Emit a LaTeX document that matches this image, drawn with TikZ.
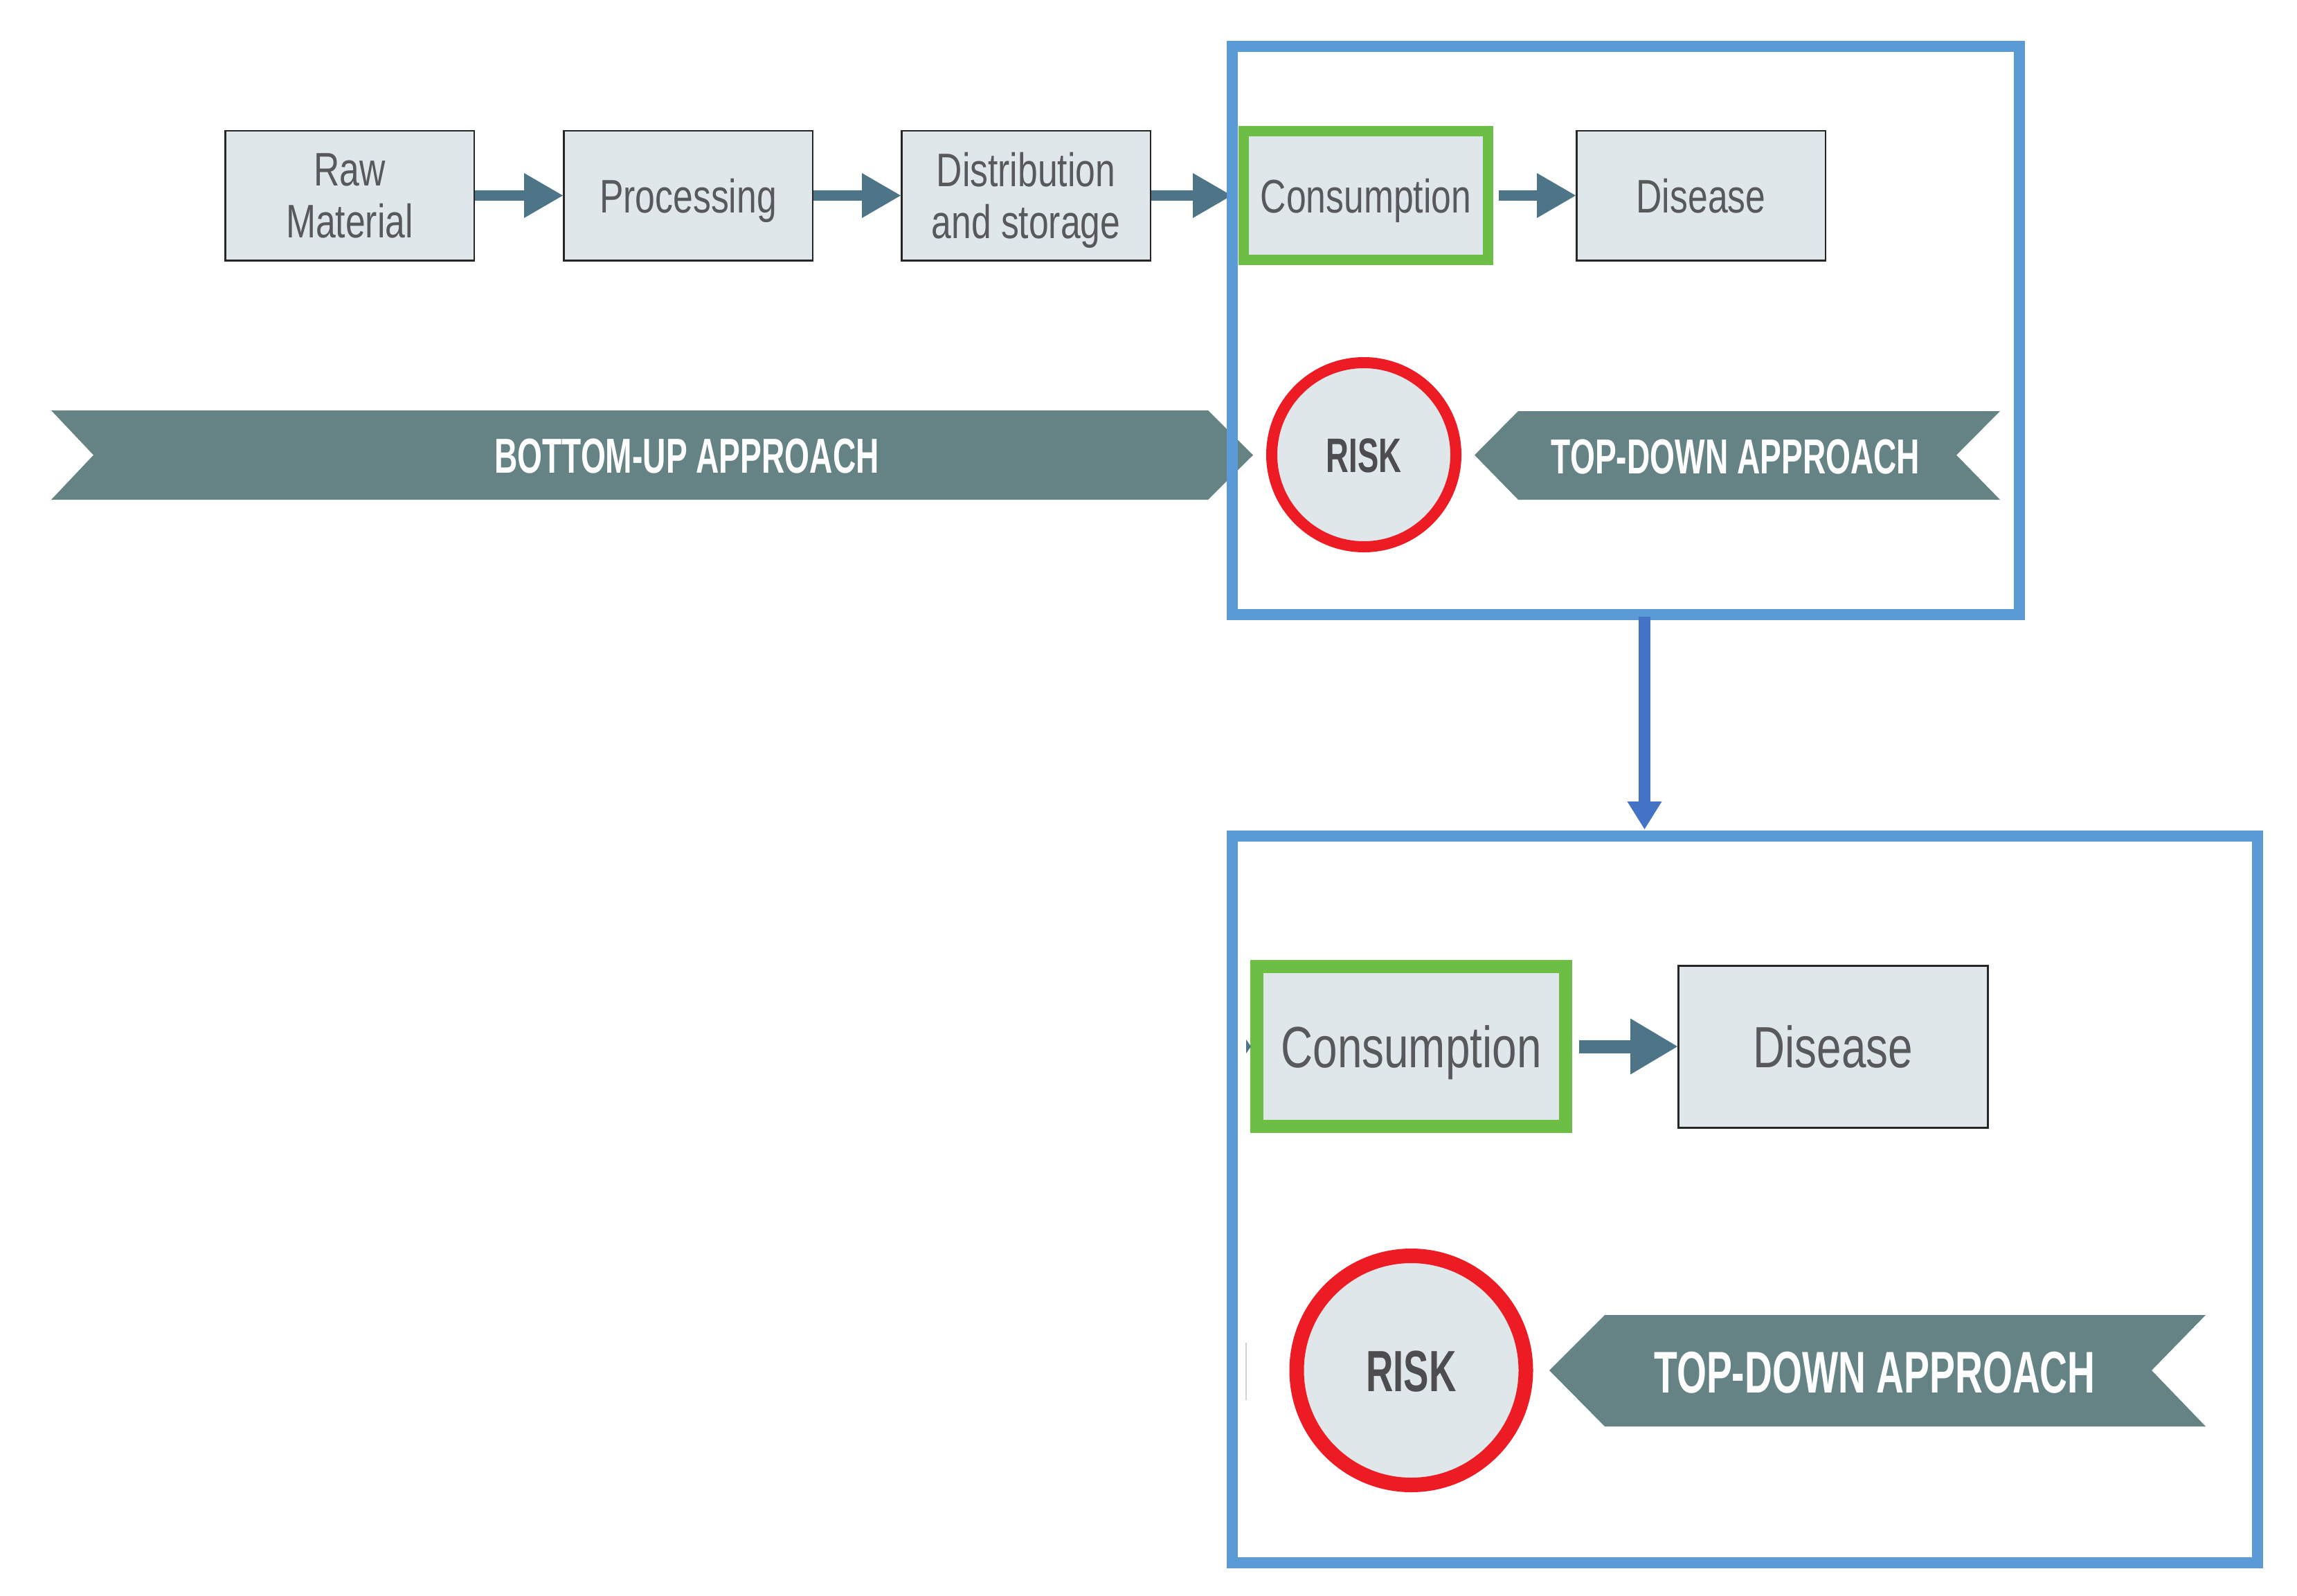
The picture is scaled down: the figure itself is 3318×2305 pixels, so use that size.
\documentclass[tikz,border=0pt]{standalone}
\usepackage{fontspec}
\setmainfont{Liberation Sans}
\newfontfamily\condreg[FakeStretch=0.76]{Liberation Sans}
\newfontfamily\condbold[FakeStretch=0.65]{Liberation Sans Bold}
\usetikzlibrary{arrows.meta}
\definecolor{boxfill}{HTML}{E0E7EA}
\definecolor{boxline}{HTML}{262626}
\definecolor{boxtext}{HTML}{58595B}
\definecolor{flowcol}{HTML}{4E7587}
\definecolor{bannercol}{HTML}{658385}
\definecolor{riskred}{HTML}{ED1C24}
\definecolor{risktext}{HTML}{4D4D4F}
\definecolor{consgreen}{HTML}{6DBE45}
\definecolor{framecol}{HTML}{5B9BD5}
\definecolor{linkblue}{HTML}{4472C4}
\begin{document}
\begin{tikzpicture}[x=1pt,y=-1pt,
  stagebox/.style={draw=boxline, line width=2.5pt, fill=boxfill, text=boxtext,
    inner sep=0pt, align=center, font=\condreg\fontsize{68}{75}\selectfont,
    minimum width=359.5pt, minimum height=187.5pt, text depth=0pt},
  oneline/.style={text height=49pt, text depth=0pt},
  greenbox/.style={stagebox, draw=consgreen, line width=15pt},
  bigtext/.style={font=\condreg\fontsize{84}{92}\selectfont, text height=60pt, text depth=0pt},
  flowarrow/.style={draw=flowcol, line width=15pt, -{Triangle[length=56pt,width=65pt,line width=0pt]}},
  bigflowarrow/.style={draw=flowcol, line width=19pt, -{Triangle[length=68pt,width=81pt,line width=0pt]}},
  banner/.style={fill=bannercol},
  bannertext/.style={text=white, inner sep=0pt, font=\condbold\fontsize{71}{71}\selectfont, text height=51pt, text depth=0pt},
  bigbannertext/.style={bannertext, font=\condbold\fontsize{85}{85}\selectfont, text height=61pt},
  riskcircle/.style={circle, draw=riskred, fill=boxfill, line width=16pt, inner sep=0pt,
    text=risktext, font=\condbold\fontsize{70}{70}\selectfont, text height=50pt, text depth=0pt},
  frame/.style={draw=framecol, line width=16pt, inner sep=0pt},
  linkarrow/.style={draw=linkblue, line width=17pt, -{Triangle[length=40pt,width=50pt,line width=0pt]}}
]
\useasboundingbox (0,0) rectangle (3318,2305);

% ---------- banners (top part) ----------
\fill[banner] (74,593) -- (1745,593) -- (1810,657.5) -- (1745,722) -- (74,722) -- (135,657.5) -- cycle;
\node[bannertext] (bottomup) at (992,657.5) {BOTTOM-UP APPROACH};
\fill[banner] (2130,657.5) -- (2193,594) -- (2889,594) -- (2826,657.5) -- (2889,722) -- (2193,722) -- cycle;
\node[bannertext] (topdown) at (2507,658.5) {TOP-DOWN APPROACH};

% ---------- chain (top part) ----------
\node[stagebox] (raw) at (505,282.5) {Raw\\Material};
\node[stagebox, oneline] (proc) at (994,282.5) {Processing};
\node[stagebox] (dist) at (1482,282.5) {Distribution\\and storage};
\node[greenbox, oneline, minimum width=353pt, minimum height=186pt] (cons) at (1973,282.5) {Consumption};
\node[stagebox, oneline] (dis) at (2457,282.5) {Disease};

\draw[flowarrow] (raw.east) -- (proc.west);
\draw[flowarrow] (proc.east) -- (dist.west);
\draw[flowarrow] (dist.east) -- ([xshift=-10pt]cons.west);
\draw[flowarrow] ([xshift=7.5pt]cons.east) -- (dis.west);

\node[riskcircle, minimum size=266pt] (risk) at (1970,657) {RISK};

% ---------- frame 1 ----------
\node[frame, minimum width=1137pt, minimum height=821pt] (frame1) at (2348.5,477.5) {};

% ---------- frame 2 ----------
\node[frame, minimum width=1481pt, minimum height=1050pt] (frame2) at (2520.5,1733) {};

\draw[linkarrow] ([xshift=27pt,yshift=5pt]frame1.south) -- ([xshift=27pt,yshift=2pt]frame1.south |- frame2.north);

\node[greenbox, bigtext, line width=19pt, minimum width=446pt, minimum height=231pt] (cons2) at (2038.5,1512) {Consumption};
\node[stagebox, bigtext, line width=3pt, minimum width=447pt, minimum height=234pt] (dis2) at (2648,1512) {Disease};
\draw[bigflowarrow] ([xshift=9.5pt]cons2.east) -- (dis2.west);
\fill[flowcol] (1800,1502) -- (1807,1512) -- (1800,1522) -- cycle;

\node[riskcircle, line width=21pt, minimum size=331pt, font=\condbold\fontsize{84}{84}\selectfont, text height=60pt] (risk2) at (2038.5,1980) {RISK};
\draw[gray!35, line width=1.5pt] (1800,1940) -- (1800,2023);

\fill[banner] (2238,1980) -- (2318,1900) -- (3186,1900) -- (3108,1980) -- (3186,2061) -- (2318,2061) -- cycle;
\node[bigbannertext] (topdown2) at (2708,1982) {TOP-DOWN APPROACH};

\end{tikzpicture}
\end{document}
